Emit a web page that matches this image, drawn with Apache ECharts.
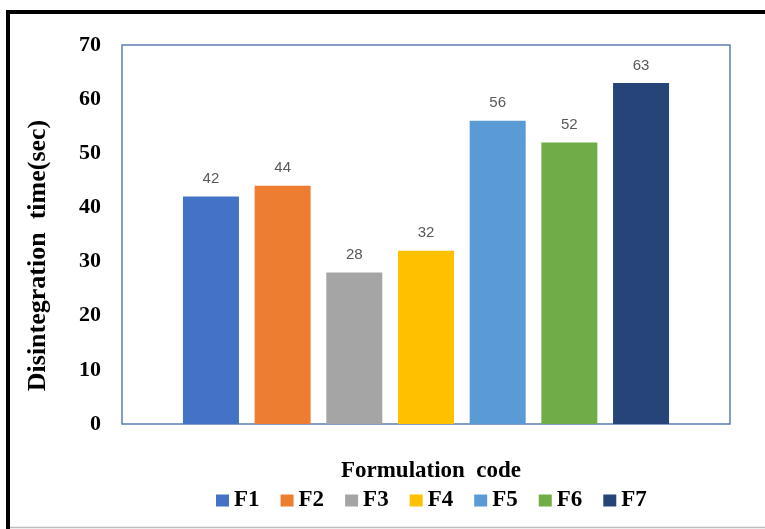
<!DOCTYPE html>
<html>
<head>
<meta charset="utf-8">
<script src="https://cdn.jsdelivr.net/npm/echarts@6/dist/echarts.min.js"></script>
<style>html,body{margin:0;padding:0;background:#fff;}#c{width:765px;height:529px;}</style>
</head>
<body>
<div id="c"></div>
<script>
const seriesNames = ['F1', 'F2', 'F3', 'F4', 'F5', 'F6', 'F7'];
const values = [42, 44, 28, 32, 56, 52, 63];
const colors = ['#4472C4', '#ED7D31', '#A5A5A5', '#FFC000', '#5B9BD5', '#70AD47', '#264478'];
const yMin = 0, yMax = 70, yStep = 10;
const xTitle = 'Formulation  code';
const yTitle = 'Disintegration  time(sec)';

const serif = '"Liberation Serif", "Times New Roman", serif';
const chart = echarts.init(document.getElementById('c'));
chart.setOption({
  animation: false,
  backgroundColor: '#fff',
  grid: { left: 122, right: 35, top: 45, bottom: 105, show: true, borderColor: '#5b7db4', borderWidth: 1.5, backgroundColor: 'transparent' },
  legend: {
    data: seriesNames,
    bottom: 12,
    left: 211,
    icon: 'rect',
    itemWidth: 13,
    itemHeight: 12,
    itemGap: 21,
    textStyle: { fontFamily: serif, fontWeight: 'bold', fontSize: 23, color: '#000' }
  },
  xAxis: {
    type: 'category',
    data: [''],
    axisLine: { show: false },
    axisTick: { show: false },
    axisLabel: { show: false },
    name: xTitle,
    nameLocation: 'middle',
    nameGap: 36,
    nameTextStyle: { fontFamily: serif, fontWeight: 'bold', fontSize: 23, color: '#000', padding: [0, 0, 0, 10] }
  },
  yAxis: {
    type: 'value',
    min: yMin, max: yMax, interval: yStep,
    axisLine: { show: false },
    axisTick: { show: false },
    splitLine: { show: false },
    axisLabel: { fontFamily: serif, fontWeight: 'bold', fontSize: 22, color: '#000', margin: 21 },
    name: yTitle,
    nameLocation: 'middle',
    nameGap: 71,
    nameTextStyle: { fontFamily: serif, fontWeight: 'bold', fontSize: 26, color: '#000', padding: [0, 42, 0, 0] }
  },
  series: seriesNames.map((n, i) => ({
    name: n,
    type: 'bar',
    data: [values[i]],
    barWidth: 56,
    barGap: '28%',
    itemStyle: { color: colors[i] },
    label: { show: true, position: 'top', distance: 10, color: '#595959', fontFamily: '"Liberation Sans", Arial, sans-serif', fontSize: 15 }
  })),
  graphic: [
    { type: 'rect', shape: { x: 8, y: 12, width: 800, height: 540 }, style: { fill: 'none', stroke: '#000', lineWidth: 4 }, silent: true, z: 100 },
    { type: 'line', shape: { x1: 10, y1: 527.5, x2: 765, y2: 527.5 }, style: { stroke: '#bdbdbd', lineWidth: 1.5 }, silent: true, z: 100 }
  ]
});
</script>
</body>
</html>
